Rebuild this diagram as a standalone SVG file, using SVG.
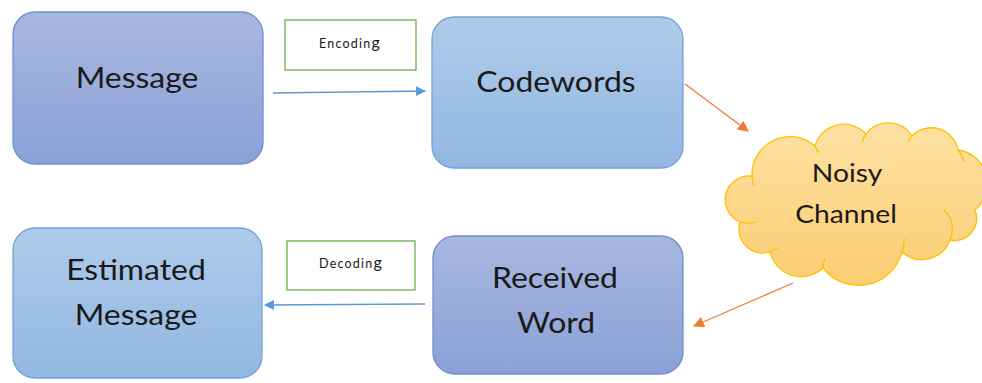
<svg xmlns="http://www.w3.org/2000/svg" width="982" height="383" viewBox="0 0 982 383">
  <defs>
    <linearGradient id="gradDark" x1="0" y1="0" x2="0" y2="1">
      <stop offset="0" stop-color="#a9b7e0"/>
      <stop offset="1" stop-color="#8aa1d7"/>
    </linearGradient>
    <linearGradient id="gradLight" x1="0" y1="0" x2="0" y2="1">
      <stop offset="0" stop-color="#afcbea"/>
      <stop offset="1" stop-color="#92b7e2"/>
    </linearGradient>
    <linearGradient id="gradCloud" x1="0" y1="0" x2="0" y2="1">
      <stop offset="0" stop-color="#fde1a3"/>
      <stop offset="1" stop-color="#fccd72"/>
    </linearGradient>
    <marker id="headBlue" viewBox="0 0 10 10" refX="9" refY="5" markerWidth="10" markerHeight="10" markerUnits="userSpaceOnUse" orient="auto">
      <path d="M0,0 L10,5 L0,10 Z" fill="#5b9bd5"/>
    </marker>
    <marker id="headOrange" viewBox="0 0 10 10" refX="9" refY="5" markerWidth="11" markerHeight="11" markerUnits="userSpaceOnUse" orient="auto">
      <path d="M0,0 L10,5 L0,10 Z" fill="#ed7d31"/>
    </marker>
  </defs>
  <style>
    .dark { fill: url(#gradDark); stroke: #6f8fd0; stroke-width: 1.3; }
    .light { fill: url(#gradLight); stroke: #72a3da; stroke-width: 1.3; }
    .cloud { fill: url(#gradCloud); stroke: #ffc000; stroke-width: 1.3; }
    .cloudLine { fill: none; stroke: #ffc000; stroke-width: 1.3; }
    .label { fill: #ffffff; stroke: #70ad47; stroke-width: 1.3; }
    .big { font-family: Lato, "Liberation Sans", sans-serif; font-size: 28px; fill: #1a1a1a; text-anchor: middle; }
    .mid { font-family: Lato, "Liberation Sans", sans-serif; font-size: 25px; fill: #1a1a1a; text-anchor: middle; }
    .small { font-family: Lato, "Liberation Sans", sans-serif; font-size: 12.5px; letter-spacing: 1.2px; fill: #1a1a1a; text-anchor: middle; }
    .bigG { font-size: 16px; }
    .blue { stroke: #5b9bd5; stroke-width: 1.3; fill: none; marker-end: url(#headBlue); }
    .orange { stroke: #ed7d31; stroke-width: 1.3; fill: none; marker-end: url(#headOrange); }
  </style>

  <g id="message">
    <rect class="dark" x="13" y="12" width="250" height="152" rx="22"/>
    <text class="big" transform="translate(137,88) scale(1.14,1)">Message</text>
  </g>

  <g id="encoding-label">
    <rect class="label" x="285" y="20" width="131" height="50"/>
    <text class="small" x="350" y="48">Encodin<tspan class="bigG">g</tspan></text>
  </g>

  <g id="codewords">
    <rect class="light" x="432" y="17" width="251" height="151" rx="22"/>
    <text class="big" transform="translate(556,92) scale(1.14,1)">Codewords</text>
  </g>

  <g id="noisy-channel">
    <!-- cloud outline: a ring of arcs bulging outward, plus short inner creases -->
    <path class="cloud" d="M740,222 A24,24 0 0 1 752,176 A38,38 0 0 1 815,146 A30,30 0 0 1 866,134 A28,28 0 0 1 912,136 A27,27 0 0 1 958,150 A34,34 0 0 1 975,210 A22,22 0 0 1 950,240 A30,30 0 0 1 902,252 A45,45 0 0 1 823,268 A32,32 0 0 1 770,252 A24,24 0 0 1 740,222 Z"/>
    <path class="cloudLine" d="M752,176 A30,30 0 0 0 754,186 M815,146 A32,32 0 0 0 819,153 M866,134 A24,24 0 0 0 862,142 M912,136 A22,22 0 0 0 908,142 M958,150 A28,28 0 0 1 964,162 M950,240 A26,26 0 0 0 944,210 M902,252 A30,30 0 0 0 904,238 M823,268 A40,40 0 0 1 825,258 M770,252 A30,30 0 0 1 778,248 M740,222 A28,28 0 0 0 756,222"/>
    <text class="mid" transform="translate(847,182) scale(1.13,1)">Noisy</text>
    <text class="mid" transform="translate(846,223) scale(1.13,1)">Channel</text>
  </g>

  <g id="received-word">
    <rect class="dark" x="433" y="236" width="250" height="138" rx="22"/>
    <text class="big" transform="translate(555,288) scale(1.14,1)">Received</text>
    <text class="big" transform="translate(556,333) scale(1.14,1)">Word</text>
  </g>

  <g id="decoding-label">
    <rect class="label" x="287" y="241" width="128" height="49"/>
    <text class="small" x="351" y="268">Decodin<tspan class="bigG">g</tspan></text>
  </g>

  <g id="estimated-message">
    <rect class="light" x="13" y="228" width="249" height="150" rx="22"/>
    <text class="big" transform="translate(136,280) scale(1.14,1)">Estimated</text>
    <text class="big" transform="translate(136,325) scale(1.14,1)">Message</text>
  </g>

  <g id="connectors">
    <path class="blue" d="M273,93 L425,91"/>
    <path class="orange" d="M685,84 L748,131"/>
    <path class="orange" d="M793,283 L694,326"/>
    <path class="blue" d="M425,304 L265,305"/>
  </g>
</svg>
